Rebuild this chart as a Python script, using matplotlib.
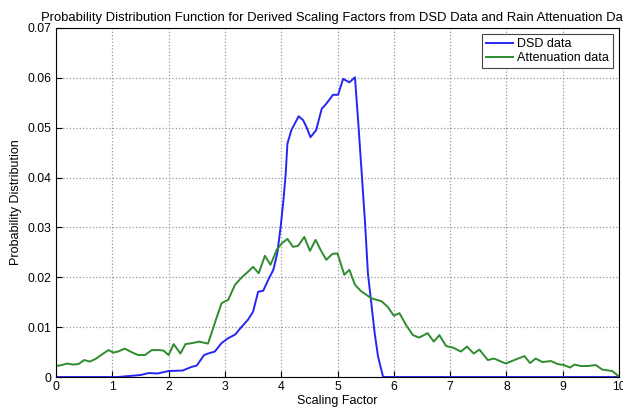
import matplotlib
matplotlib.use("Agg")
from matplotlib import pyplot as plt

plt.rcParams['font.family'] = ['Liberation Sans', 'DejaVu Sans']

# DSD data (x, y)
dsd_x = [0.0, 1.1, 1.5, 1.65, 1.8, 2.0, 2.25, 2.4, 2.5, 2.63, 2.7, 2.82, 2.94, 3.06,
         3.18, 3.3, 3.41, 3.5, 3.59, 3.68, 3.77, 3.86, 3.93, 3.99, 4.04, 4.08,
         4.11, 4.18, 4.24, 4.31, 4.39, 4.45, 4.52, 4.62, 4.72, 4.8, 4.92, 5.01,
         5.1, 5.21, 5.31, 5.37, 5.43, 5.49, 5.54, 5.6, 5.66, 5.72, 5.81, 10.0]
dsd_y = [0.0, 0.0, 0.0004, 0.0008, 0.0007, 0.0012, 0.0013, 0.002, 0.0023, 0.0044,
         0.0047, 0.0051, 0.0068, 0.0078, 0.0085, 0.0101, 0.0115, 0.0131, 0.0171,
         0.0173, 0.0195, 0.0215, 0.0248, 0.0301, 0.0355, 0.0408, 0.0468, 0.0495,
         0.0508, 0.0523, 0.0515, 0.0501, 0.0481, 0.0495, 0.0538, 0.0548, 0.0566,
         0.0566, 0.0598, 0.0591, 0.0601, 0.0508, 0.0408, 0.0308, 0.0208, 0.0148,
         0.0088, 0.0041, 0.0, 0.0]

# Attenuation data (x, y)
att_x = [0.0, 0.1, 0.2, 0.3, 0.4, 0.5, 0.6, 0.7, 0.8, 0.93, 1.02, 1.1, 1.22, 1.34,
         1.46, 1.58, 1.7, 1.82, 1.91, 2.0, 2.09, 2.21, 2.3, 2.42, 2.54, 2.7,
         2.82, 2.94, 3.06, 3.18, 3.3, 3.41, 3.5, 3.6, 3.71, 3.81, 3.92, 4.01,
         4.11, 4.21, 4.3, 4.41, 4.51, 4.61, 4.7, 4.8, 4.91, 5.0, 5.12, 5.21,
         5.31, 5.42, 5.6, 5.78, 5.89, 6.0, 6.1, 6.22, 6.34, 6.45, 6.6, 6.71,
         6.81, 6.93, 7.05, 7.19, 7.3, 7.42, 7.52, 7.67, 7.78, 7.99, 8.14, 8.32,
         8.42, 8.52, 8.64, 8.79, 8.91, 9.02, 9.13, 9.21, 9.32, 9.44, 9.59, 9.7,
         9.88, 10.0]
att_y = [0.0022, 0.0024, 0.0027, 0.0025, 0.0026, 0.0034, 0.0031, 0.0036, 0.0044,
         0.0054, 0.0049, 0.0051, 0.0057, 0.005, 0.0044, 0.0044, 0.0054, 0.0054,
         0.0053, 0.0044, 0.0066, 0.0047, 0.0066, 0.0068, 0.0071, 0.0067, 0.0108,
         0.0148, 0.0155, 0.0185, 0.02, 0.0211, 0.0221, 0.0208, 0.0243, 0.0225,
         0.0255, 0.0268, 0.0277, 0.0261, 0.0263, 0.0281, 0.0253, 0.0275, 0.0255,
         0.0235, 0.0247, 0.0248, 0.0205, 0.0215, 0.0185, 0.0172, 0.0158, 0.0152,
         0.0141, 0.0123, 0.0128, 0.0104, 0.0084, 0.0079, 0.0088, 0.0071, 0.0084,
         0.0062, 0.0059, 0.0051, 0.0061, 0.0047, 0.0055, 0.0034, 0.0037, 0.0027,
         0.0034, 0.0042, 0.0028, 0.0037, 0.003, 0.0032, 0.0026, 0.0024, 0.0019,
         0.0025, 0.0022, 0.0022, 0.0024, 0.0015, 0.0012, 0.0001]

x_ticks = list(range(0, 11))
y_ticks = [0, 0.01, 0.02, 0.03, 0.04, 0.05, 0.06, 0.07]
y_tick_labels = ["0", "0.01", "0.02", "0.03", "0.04", "0.05", "0.06", "0.07"]

fig = plt.figure(figsize=(6.23, 4.11), dpi=100)
ax = fig.add_axes([0.0899, 0.0827, 0.9037, 0.8492])

ax.plot(dsd_x, dsd_y, color=(0.15, 0.15, 0.95), linewidth=1.4, label="DSD data")
ax.plot(att_x, att_y, color=(0.18, 0.55, 0.18), linewidth=1.4, label="Attenuation data")

ax.set_xlim(0, 10)
ax.set_ylim(0, 0.07)
ax.set_xticks(x_ticks)
ax.set_yticks(y_ticks)
ax.set_yticklabels(y_tick_labels)
ax.tick_params(direction="in", labelsize=8.8, length=4, pad=3)
ax.grid(True, linestyle=":", color="#999999", linewidth=0.9)
for s in ax.spines.values():
    s.set_linewidth(0.8)

ax.set_xlabel("Scaling Factor", fontsize=9, labelpad=1)
ax.set_ylabel("Probability Distribution", fontsize=9, labelpad=4)
ax.set_title("Probability Distribution Function for Derived Scaling Factors from DSD Data and Rain Attenuation Data",
             fontsize=9.4, pad=5)

leg = ax.legend(loc="upper right", fontsize=9, fancybox=False, framealpha=1,
                edgecolor="#444444", handlelength=2.2, borderpad=0.3, labelspacing=0.2,
                handletextpad=0.3)
leg.get_frame().set_linewidth(0.8)

fig.savefig("out.png", dpi=100)
